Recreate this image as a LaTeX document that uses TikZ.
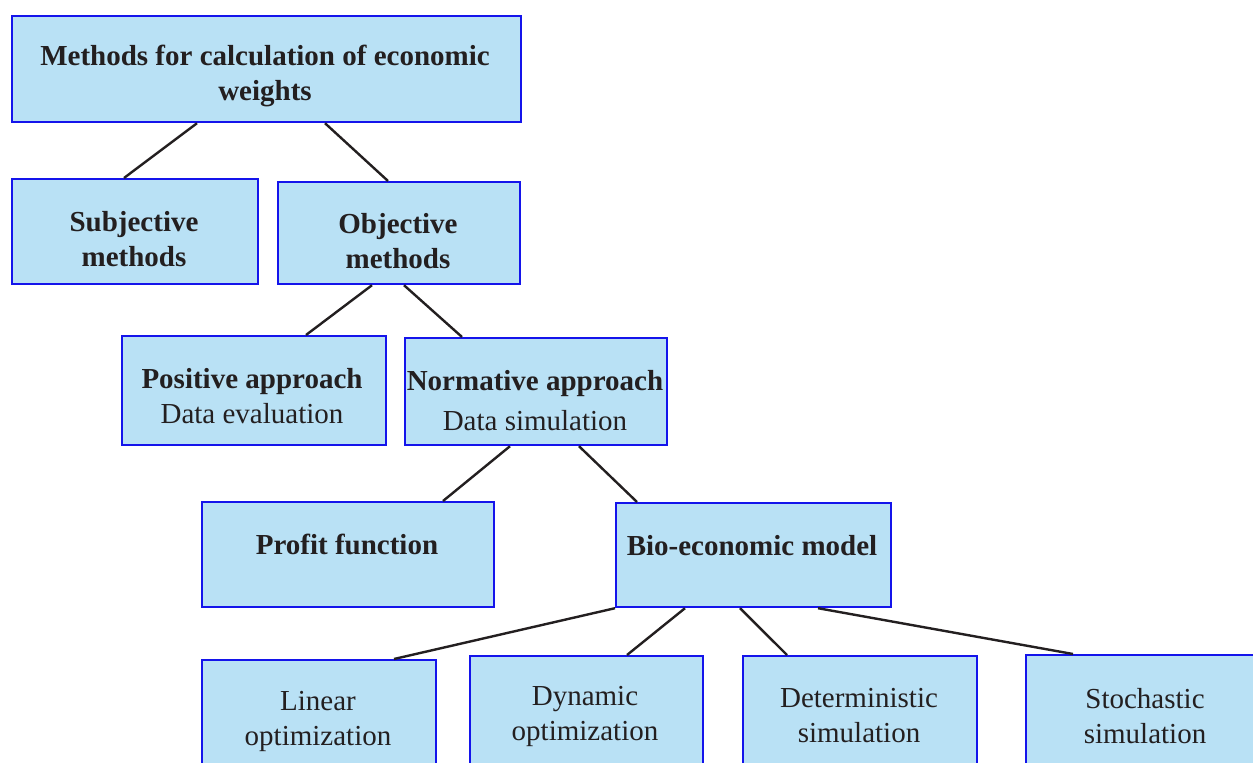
\documentclass[tikz,border=0pt]{standalone}
\usepackage{fontspec}
\setmainfont{Liberation Serif}
\definecolor{boxfill}{RGB}{185,225,245}
\definecolor{boxline}{RGB}{20,20,235}
\definecolor{ink}{RGB}{35,31,32}
\begin{document}
\begin{tikzpicture}[x=1pt,y=-1pt,
  box/.style={draw=boxline, fill=boxfill, line width=2.2pt, inner sep=0pt, anchor=north west},
  lbl/.style={text=ink, align=center, font=\fontsize{29}{35}\selectfont, inner sep=0pt},
  blbl/.style={lbl, font=\fontsize{29}{35}\selectfont\bfseries},
  conn/.style={draw=ink, line width=2.4pt}]
\useasboundingbox (0,0) rectangle (1253,763);
\clip (0,0) rectangle (1253,763);
\fill[white] (0,0) rectangle (1253,763);
% boxes
\node[box, minimum width=509pt, minimum height=106pt] (top) at (11,15) {};
\node[box, minimum width=246pt, minimum height=105pt] (sub) at (11,178) {};
\node[box, minimum width=242pt, minimum height=102pt] (obj) at (277,181) {};
\node[box, minimum width=264pt, minimum height=109pt] (pos) at (121,335) {};
\node[box, minimum width=262pt, minimum height=107pt] (norm) at (404,337) {};
\node[box, minimum width=292pt, minimum height=105pt] (prof) at (201,501) {};
\node[box, minimum width=275pt, minimum height=104pt] (bio) at (615,502) {};
\node[box, minimum width=234pt, minimum height=130pt] (lin) at (201,659) {};
\node[box, minimum width=233pt, minimum height=130pt] (dyn) at (469,655) {};
\node[box, minimum width=234pt, minimum height=130pt] (det) at (742,655) {};
\node[box, minimum width=240pt, minimum height=130pt] (sto) at (1025,654) {};
% texts
\node[blbl] (ttop) at (265,76) {Methods for calculation of economic\\weights};
\node[blbl] (tsub) at (134,239) {Subjective\\methods};
\node[blbl] (tobj) at (398,241) {Objective\\methods};
\node[lbl] (tpos) at (252,396) {\textbf{Positive approach}\\Data evaluation};
\node[lbl, font=\fontsize{29}{40}\selectfont] (tnorm) at (535,401) {\textbf{Normative approach}\\Data simulation};
\node[blbl] (tprof) at (347,544) {Profit function};
\node[blbl] (tbio) at (752,546) {Bio-economic model};
\node[lbl] (tlin) at (318,721) {Linear\\optimization};
\node[lbl] (tdyn) at (585,716) {Dynamic\\optimization};
\node[lbl] (tdet) at (859,716) {Deterministic\\simulation};
\node[lbl] (tsto) at (1145,716) {Stochastic\\simulation};
% connectors
\draw[conn] ([xshift=186pt]top.south west) -- ([xshift=113pt]sub.north west);
\draw[conn] ([xshift=314pt]top.south west) -- ([xshift=111pt]obj.north west);
\draw[conn] ([xshift=95pt]obj.south west) -- ([xshift=185pt]pos.north west);
\draw[conn] ([xshift=127pt]obj.south west) -- ([xshift=58pt]norm.north west);
\draw[conn] ([xshift=106pt]norm.south west) -- ([xshift=242pt]prof.north west);
\draw[conn] ([xshift=175pt]norm.south west) -- ([xshift=22pt]bio.north west);
\draw[conn] (bio.south west) -- ([xshift=193pt]lin.north west);
\draw[conn] ([xshift=70pt]bio.south west) -- ([xshift=158pt]dyn.north west);
\draw[conn] ([xshift=125pt]bio.south west) -- ([xshift=45pt]det.north west);
\draw[conn] ([xshift=203pt]bio.south west) -- ([xshift=48pt]sto.north west);
\end{tikzpicture}
\end{document}
